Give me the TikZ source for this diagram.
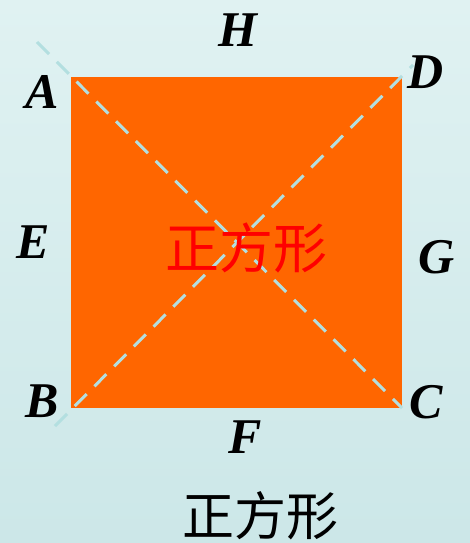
\documentclass[tikz,border=0pt]{standalone}
\usepackage{fontspec}
\setmainfont{Liberation Serif}
\newfontfamily\cjk{Noto Sans CJK SC}
\definecolor{bgtop}{HTML}{E0F2F2}
\definecolor{bgbot}{HTML}{CCE7E8}
\definecolor{sqorange}{HTML}{FF6600}
\definecolor{dashcol}{HTML}{B3DFE0}
\tikzset{
  lbl/.style={font=\fontsize{50}{50}\selectfont\bfseries\itshape, inner sep=0pt},
  diag/.style={draw=dashcol, line width=3pt, dash pattern=on 17pt off 11pt},
  cjklbl/.style={font=\cjk\fontsize{#1}{#1}\selectfont, inner sep=0pt}
}
\begin{document}
\begin{tikzpicture}[x=1pt,y=-1pt]
\shade[top color=bgtop, bottom color=bgbot] (0,0) rectangle (470,543);
\useasboundingbox (0,0) rectangle (470,543);
\coordinate (A) at (71,77);
\coordinate (B) at (71,408);
\coordinate (C) at (402,408);
\coordinate (D) at (402,77);
\coordinate (Aext) at (37,42);
\coordinate (Bext) at (55,426);
\coordinate (Dext) at (413,65);
\fill[sqorange] (A) rectangle (C);
\draw[diag] (Aext) -- (C);
\draw[diag] (Bext) -- (Dext);
\node[cjklbl=54, text=red] (mid) at (246,248) {正方形};
\node[cjklbl=52, text=black] (cap) at (260,516) {正方形};
\node[lbl] (la) at (42,92) {A};
\node[lbl] (lh) at (238,30) {H};
\node[lbl] (ld) at (426,72) {D};
\node[lbl] (le) at (33,242) {E};
\node[lbl] (lg) at (437,257) {G};
\node[lbl] (lb) at (42,401) {B};
\node[lbl] (lf) at (245,437) {F};
\node[lbl] (lc) at (426,402) {C};
\end{tikzpicture}
\end{document}
